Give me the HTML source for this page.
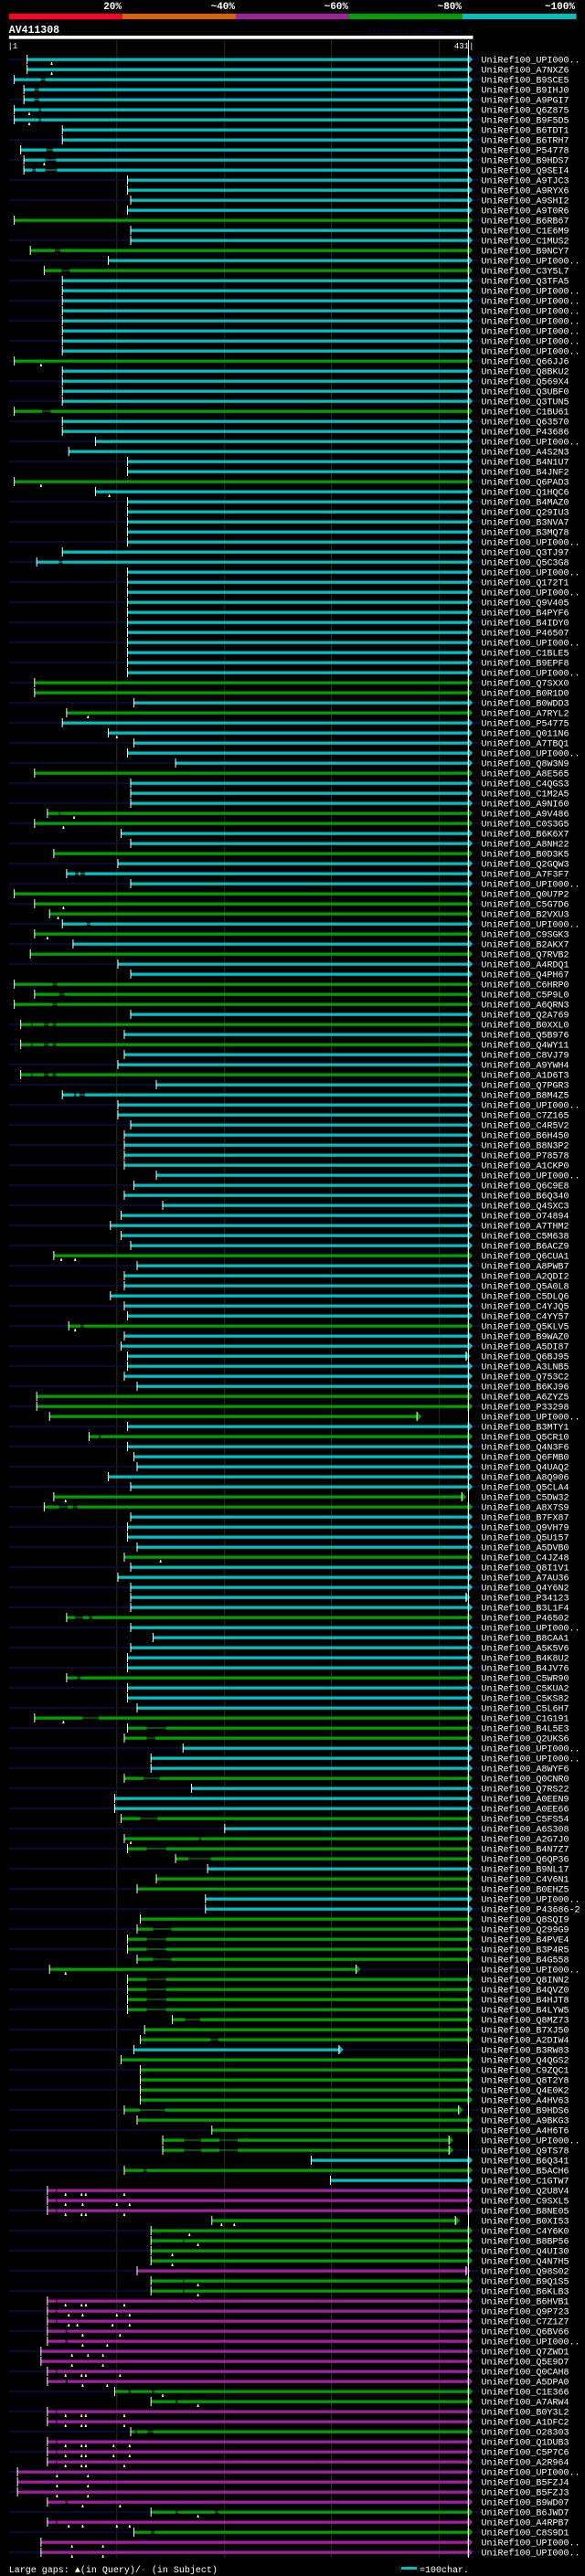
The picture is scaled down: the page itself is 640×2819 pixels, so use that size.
<!DOCTYPE html>
<html><head><meta charset="utf-8">
<style>
html,body{margin:0;padding:0;background:#000;}
svg{display:block;}
text{font-family:"Liberation Mono",monospace;}
</style></head>
<body>
<svg id="chart" width="640" height="2819" viewBox="0 0 640 2819" xmlns="http://www.w3.org/2000/svg">
<rect x="0" y="0" width="640" height="2819" fill="#000"/>
<g id="hdr">
  <rect x="9.8" y="15" width="124.1" height="6" fill="#ff0022"/>
  <rect x="133.9" y="15" width="124.1" height="6" fill="#e06000"/>
  <rect x="258" y="15" width="123.6" height="6" fill="#a020a0"/>
  <rect x="381.6" y="15" width="124.4" height="6" fill="#00a000"/>
  <rect x="506" y="15" width="124.6" height="6" fill="#00c0c0"/>
  <text x="133" y="10" fill="#fff" font-size="11" font-weight="bold" text-anchor="end">20%</text>
  <text x="257" y="10" fill="#fff" font-size="11" font-weight="bold" text-anchor="end">~40%</text>
  <text x="381" y="10" fill="#fff" font-size="11" font-weight="bold" text-anchor="end">~60%</text>
  <text x="505" y="10" fill="#fff" font-size="11" font-weight="bold" text-anchor="end">~80%</text>
  <text x="629" y="10" fill="#fff" font-size="11" font-weight="bold" text-anchor="end">~100%</text>
</g>
<text x="9.8" y="36" fill="#fff" font-size="11.5" font-weight="bold">AV411308</text>
<text x="402" y="37" fill="#0a0a40" font-size="8.3">AlignView.pm Beta rel.7</text>
<rect x="9.8" y="39" width="507.7" height="3.7" fill="#fff"/>
<text x="8.5" y="53" fill="#fff" font-size="9">|1</text>
<text x="518.5" y="53" fill="#fff" font-size="9" text-anchor="end">431|</text>
<g id="grid"></g>
<g id="rows"></g>
<line x1="512.5" y1="44" x2="512.5" y2="2799" stroke="#fff" stroke-width="1"/>
<g id="labels"></g>
<text x="9.8" y="2815" fill="#fff" font-size="10">Large gaps: <tspan fill="#ffff88">▲</tspan>(in Query)/<tspan fill="#00c0c0">-</tspan> (in Subject)</text>
<line x1="438" y1="2807" x2="438" y2="2814" stroke="#333"/>
<rect x="439" y="2809" width="17" height="3" fill="#00c0c0"/>
<line x1="457" y1="2807" x2="457" y2="2814" stroke="#333"/>
<text x="459" y="2815" fill="#fff" font-size="10">=100char.</text>
</svg>
<script>
const queryLength = 431;
const gridTicks = [102, 203, 303, 404];
const hitIds = [
"U","A7NXZ6","B9SCE5","B9IHJ0","A9PGI7","Q6Z875","B9F5D5","B6TDT1","B6TRH7","P54778",
"B9HDS7","Q9SEI4","A9TJC3","A9RYX6","A9SHI2","A9T0R6","B6RB67","C1E6M9","C1MUS2","B9NCY7",
"U","C3Y5L7","Q3TFA5","U","U","U","U","U","U","U",
"Q66JJ6","Q8BKU2","Q569X4","Q3UBF0","Q3TUN5","C1BU61","Q63570","P43686","U","A4S2N3",
"B4N1U7","B4JNF2","Q6PAD3","Q1HQC6","B4MAZ0","Q29IU3","B3NVA7","B3MQ78","U","Q3TJ97",
"Q5C3G8","U","Q172T1","U","Q9V405","B4PYF6","B4IDY0","P46507","U","C1BLE5",
"B9EPF8","U","Q7SXX0","B0R1D0","B0WDD3","A7RYL2","P54775","Q011N6","A7TBQ1","U",
"Q8W3N9","A8E565","C4QGS3","C1M2A5","A9NI60","A9V486","C0S3G5","B6K6X7","A8NH22","B0D3K5",
"Q2GQW3","A7F3F7","U","Q0U7P2","C5G7D6","B2VXU3","U","C9SGK3","B2AKX7","Q7RVB2",
"A4RDQ1","Q4PH67","C6HRP0","C5P9L0","A6QRN3","Q2A769","B0XXL0","Q5B976","Q4WY11","C8VJ79",
"A9YWH4","A1D6T3","Q7PGR3","B8M4Z5","U","C7Z165","C4R5V2","B6H450","B8N3P2","P78578",
"A1CKP0","U","Q6C9E8","B6Q340","Q4SXC3","O74894","A7THM2","C5M638","B6ACZ9","Q6CUA1",
"A8PWB7","A2QDI2","Q5A0L8","C5DLQ6","C4YJQ5","C4YY57","Q5KLV5","B9WAZ0","A5DI87","Q6BJ95",
"A3LNB5","Q753C2","B6KJ96","A6ZYZ5","P33298","U","B3MTY1","Q5CR10","Q4N3F6","Q6FMB0",
"Q4UAQ2","A8Q906","Q5CLA4","C5DW32","A8X7S9","B7FX87","Q9VH79","Q5U157","A5DVB0","C4JZ48",
"Q8I1V1","A7AU36","Q4Y6N2","P34123","B3L1F4","P46502","U","B8CAA1","A5K5V6","B4K8U2",
"B4JV76","C5WR90","C5KUA2","C5KS82","C5L6H7","C1G191","B4L5E3","Q2UKS6","U","U",
"A8WYF6","Q0CNR0","Q7RS22","A0EEN9","A0EE66","C5FS54","A6S308","A2G7J0","B4N7Z7","Q6QP36",
"B9NL17","C4V6N1","B0EHZ5","U","P43686-2","Q8SQI9","Q299G9","B4PVE4","B3P4R5","B4G558",
"U","Q8INN2","B4QVZ0","B4HJT8","B4LYW5","Q8MZ73","B7XJ50","A2DIW4","B3RW83","Q4QGS2",
"C9ZQC1","Q8T2Y8","Q4E0K2","A4HV63","B9HDS6","A9BKG3","A4H6T6","U","Q9TS78","B6Q341",
"B5ACH6","C1GTW7","Q2U8V4","C9SXL5","B8NE05","B0XI53","C4Y6K0","B8BP56","Q4UI30","Q4N7H5",
"Q98S02","B9Q1S5","B6KLB3","B6HVB1","Q9P723","C7Z1Z7","Q6BV66","U","Q7ZWD1","Q5E9D7",
"Q0CAH8","A5DPA0","C1E366","A7ARW4","B0Y3L2","A1DFC2","O28303","Q1DUB3","C5P7C6","A2R964",
"U","B5FZJ4","B5FZJ3","B9WD07","B6JWD7","A4RPB7","C8S9D1","U","U"
];
const hitStarts = [
18,18,6,15,15,6,6,51,51,12, 15,15,112,112,115,112,6,115,115,21,
94,34,51,51,51,51,51,51,51,51, 6,51,51,51,51,6,51,51,82,57,
112,112,6,82,112,112,112,112,112,51, 27,112,112,112,112,112,112,112,112,112,
112,112,25,25,118,55,51,94,118,112, 157,25,115,115,115,37,25,106,115,43,
103,55,115,6,25,39,51,25,61,21, 103,115,6,25,6,115,12,109,12,109,
103,12,139,51,103,103,115,109,109,109, 109,139,118,109,145,106,96,106,115,43,
121,109,109,96,109,112,57,109,106,112, 112,109,121,27,27,39,112,76,112,118,
121,94,115,43,34,115,112,112,121,109, 115,103,115,115,115,55,115,136,115,112,
112,55,112,112,121,25,112,109,164,134, 134,109,172,100,100,106,203,109,112,157,
187,139,121,185,185,124,121,112,112,121, 39,112,112,112,112,154,128,124,118,106,
124,124,124,124,109,121,191,145,145,284, 109,302,37,37,37,191,134,134,134,134,
121,134,134,37,37,37,37,37,31,31, 37,37,100,134,37,37,115,37,37,37,
9,9,9,37,134,37,118,31,31
];
const endOverrides = {130:429,136:383,144:425,154:429,191:326,199:310,205:422,208:413,209:413,216:419,221:429};
const identityCodes = "cccccccccccccccc"+"gccgcg"+"cccccccc"
 +"g"+"cccc"+"g"+"cccccc"+"g"+"cccccccccc"
 +"ccccccccc"+"gg"+"c"+"g"+"ccccc"+"g"+"ccc"+"gg"
 +"ccgcccgggcgcgccgggcgcgcc"
 +"g"+"ccccccccccccccccc"+"g"+"cccccc"
 +"g"+"cccccc"+"ggg"+"c"+"g"+"ccccc"+"gg"+"cccc"
 +"g"+"ccccc"+"g"+"ccccc"+"g"+"ccc"+"ggg"+"ccc"+"g"
 +"cccgcgggcggcc"+"gggggggggg"
 +"gggc"+"gggggggggg"+"cgc"+"ppp"+"ggg"
 +"ggpgg"+"ppppppppp"+"gg"+"pp"+"g"+"ppppppp"+"gpgpp";
const subjectGaps = {
3:[[31,35]],4:[[25,29]],5:[[25,29]],6:[[29,31]],7:[[29,31]],10:[[36,42]],11:[[35,45]],12:[[23,26],[35,46]],
20:[[44,49]],22:[[50,58]],36:[[32,40]],51:[[48,51]],76:[[48,49]],82:[[63,66],[68,72]],87:[[74,77]],
93:[[42,46]],94:[[48,53]],95:[[42,46]],97:[[22,23],[34,38],[42,45]],99:[[22,23],[34,38],[42,45]],
102:[[22,23],[34,38],[42,45]],104:[[62,64],[67,72]],127:[[68,71]],138:[[85,87]],145:[[48,56],[61,65]],
156:[[63,70],[76,79]],162:[[65,68]],166:[[70,85]],167:[[130,148]],168:[[130,138]],172:[[127,142]],
176:[[124,140]],178:[[179,181]],179:[[130,148]],180:[[169,190]],187:[[136,153]],188:[[130,148]],
189:[[130,148]],190:[[136,153]],192:[[130,148]],193:[[130,148]],194:[[130,148]],195:[[130,148]],
196:[[166,180]],198:[[190,197]],205:[[124,147]],208:[[165,181],[198,215]],209:[[165,181],[198,215]],
211:[[127,130]],213:[[45,46]],214:[[45,46]],215:[[45,46]],218:[[164,165]],222:[[164,165]],223:[[164,165]],
224:[[45,46]],225:[[45,46]],226:[[45,46]],227:[[54,56]],228:[[54,56]],231:[[45,46]],232:[[54,56]],
233:[[113,115],[135,137]],234:[[157,159]],235:[[45,46]],236:[[45,46]],237:[[119,121],[131,136]],
238:[[45,46]],239:[[45,46]],240:[[45,46]],244:[[54,56]],245:[[157,159],[194,197]],246:[[45,46]],247:[[134,137]]
};
const queryInserts = {
1:[41],2:[41],6:[20],7:[20],11:[34],31:[31],43:[31],44:[95],66:[75],68:[102],76:[62],77:[52],85:[52],
86:[47],88:[37],120:[50,63],127:[63],144:[54],150:[143],166:[52],178:[115],191:[54],
213:[54,69,73,109],214:[54,70,102,114],215:[54,69,73,109],216:[200,212],217:[170],218:[178],
219:[154],220:[154],222:[178],223:[178],224:[54,69,73,109],225:[57,70,102,114],226:[57,65,98,114],
227:[70,105],228:[70,93],229:[60,75,89],230:[60,89],231:[54,69,73,105],232:[70,93],233:[145],
234:[178],235:[54,69,73,109],236:[54,69,73,109],238:[54,69,73,99,114],239:[54,69,73,99,114],
240:[54,69,73,109],241:[46,75],242:[46,75],243:[46,75],244:[70,105],245:[178],246:[57,70,102,114],
248:[60,89],249:[60,89]
};

const NS = "http://www.w3.org/2000/svg";
const COLORS = {c:"#00c0c0", g:"#00a000", p:"#a020a0"};
function xs(r){ return 9.8 + (r-1)*502.4/(queryLength-1); }
function ys(i){ return 65 + i*11; }
function mk(tag, attrs, parent){
  const el = document.createElementNS(NS, tag);
  for (const k in attrs) el.setAttribute(k, attrs[k]);
  parent.appendChild(el);
  return el;
}
const grid = document.getElementById('grid');
gridTicks.forEach(function(t){
  const l = mk('line', {x1:xs(t), y1:44, x2:xs(t), y2:2799, stroke:'#2e2e10', 'stroke-width':1}, grid);
  
  
});
const rowsG = document.getElementById('rows');
const labG = document.getElementById('labels');
hitIds.forEach(function(id, i){
  const n = i+1;
  const y = ys(i);
  const col = COLORS[identityCodes[i]];
  const s = hitStarts[i];
  const e = endOverrides[n] || queryLength;
  const g = mk('g', {}, rowsG);
  
  
  if (i % 2 === 0) {
    const bg = mk('rect', {x:9.8, y:y-1, width:516.7, height:2, fill:'#0a0a33'}, g);
    
    
  }
  const gaps = (subjectGaps[n] || []).slice().sort(function(a,b){return a[0]-b[0];});
  let cur = s;
  const segs = [];
  gaps.forEach(function(gp){ segs.push([cur, gp[0], true]); segs.push([gp[0], gp[1], false]); cur = gp[1]; });
  segs.push([cur, e, true]);
  segs.forEach(function(sg){
    const x1 = xs(sg[0]), x2 = xs(sg[1]);
    const r = sg[2] ? mk('rect', {x:x1, y:y-1.5, width:Math.max(0,x2-x1), height:3.3, fill:col}, g)
                    : mk('rect', {x:x1, y:y-0.5, width:Math.max(0,x2-x1), height:1, fill:col}, g);
    
    
  });
  const xe = xs(e);
  const ar = mk('polygon', {points:(xe)+','+(y-5)+' '+(xe+5)+','+y+' '+(xe)+','+(y+5), fill:col}, g);
  
  
  const et = mk('rect', {x:xe-0.5, y:y-5, width:1, height:10, fill:'#fff'}, g);
  
  
  const st = mk('rect', {x:xs(s)-0.5, y:y-5, width:1, height:10, fill:'#fff'}, g);
  
  
  (queryInserts[n] || []).forEach(function(q){
    const m = mk('polygon', {points:(xs(q)-1.2)+','+(y+6)+' '+(xs(q)-0.4)+','+(y+3)+' '+(xs(q)+0.4)+','+(y+3)+' '+(xs(q)+1.2)+','+(y+6), fill:'#ffff88'}, g);
    
    
  });
  const t = mk('text', {x:526.5, y:y+3.5, fill:'#fff', 'font-size':10}, labG);
  t.textContent = 'UniRef100_' + (id === 'U' ? 'UPI000..' : id);
  
  
});
</script>
</body></html>
